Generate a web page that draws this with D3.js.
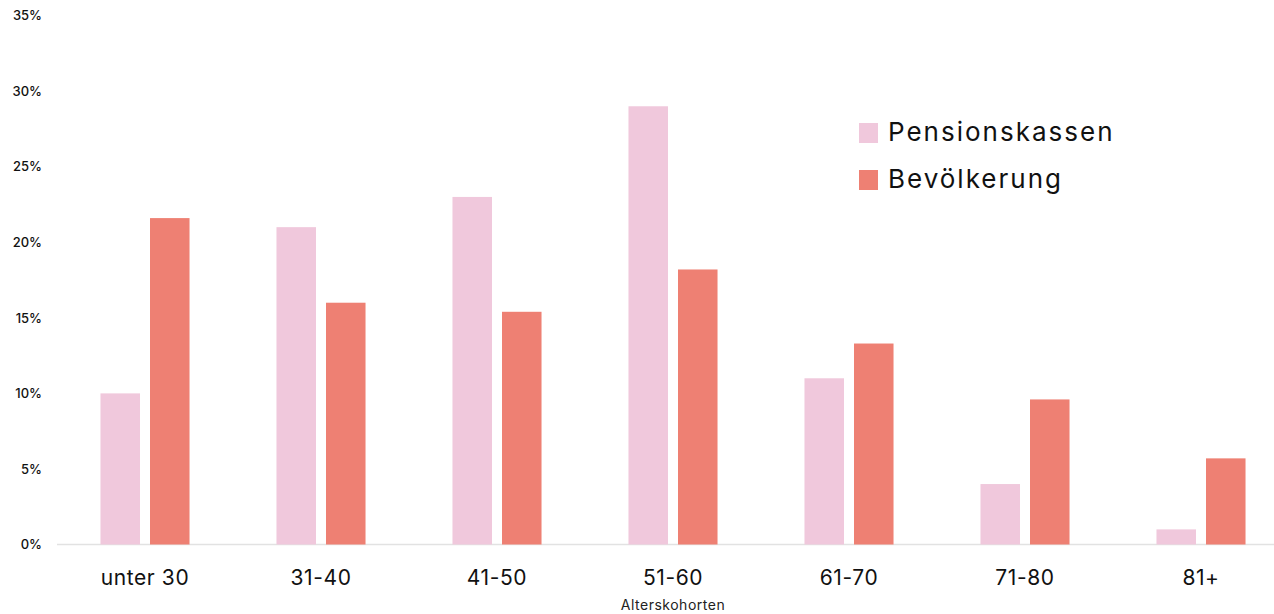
<!DOCTYPE html>
<html>
<head>
<meta charset="utf-8">
<script src="https://cdn.jsdelivr.net/npm/d3@7"></script>
<style>
  html, body { margin: 0; padding: 0; background: #ffffff; }
  svg { display: block; font-family: "Inter", "Noto Sans", sans-serif; }
</style>
</head>
<body>
<svg id="chart" width="1274" height="614"></svg>
<script>
// Age cohorts and the share of each group (in percent)
const categories = ["unter 30", "31-40", "41-50", "51-60", "61-70", "71-80", "81+"];
const seriesNames = ["Pensionskassen", "Bevölkerung"];
const pensionskassen = [10, 21, 23, 29, 11, 4, 1];
const bevoelkerung = [21.6, 16.0, 15.4, 18.2, 13.3, 9.6, 5.7];
const yTicks = [0, 5, 10, 15, 20, 25, 30, 35];
const xTitle = "Alterskohorten";

const colors = { "Pensionskassen": "#f0c8dc", "Bevölkerung": "#ee8073" };

const rows = categories.map((c, i) => ({
  category: c,
  values: [
    { key: seriesNames[0], value: pensionskassen[i] },
    { key: seriesNames[1], value: bevoelkerung[i] }
  ]
}));

const svg = d3.select("#chart");

const x0 = d3.scaleBand()
  .domain(categories)
  .range([57, 1289])
  .paddingInner(0.494)
  .paddingOuter(0.247);

const x1 = d3.scaleBand()
  .domain(seriesNames)
  .range([0, x0.bandwidth()])
  .paddingInner(0.202);

const y = d3.scaleLinear()
  .domain([0, 35])
  .range([544.5, 15.6]);

// y tick labels (no axis line)
const yAxis = d3.axisLeft(y)
  .tickValues(yTicks)
  .tickFormat(d => d + "%")
  .tickSize(0)
  .tickPadding(0);

const gy = svg.append("g")
  .attr("transform", "translate(42,0)")
  .call(yAxis);
gy.select(".domain").remove();
gy.selectAll("text")
  .attr("fill", "#111")
  .style("font-size", "13px")
  .style("font-weight", "500")
  .style("font-family", "Inter, sans-serif");

// baseline
svg.append("line")
  .attr("x1", 57).attr("x2", 1274)
  .attr("y1", y(0)).attr("y2", y(0))
  .attr("stroke", "#e2e2e2")
  .attr("stroke-width", 1.5);

// bars
const groups = svg.append("g")
  .selectAll("g")
  .data(rows)
  .join("g")
  .attr("transform", d => `translate(${x0(d.category)},0)`);

groups.selectAll("rect")
  .data(d => d.values)
  .join("rect")
  .attr("x", d => x1(d.key))
  .attr("width", x1.bandwidth())
  .attr("y", d => y(d.value))
  .attr("height", d => y(0) - y(d.value))
  .attr("fill", d => colors[d.key]);

// x category labels
const xAxis = d3.axisBottom(x0).tickSize(0).tickPadding(0);
const gx = svg.append("g")
  .attr("transform", `translate(0,${y(0)})`)
  .call(xAxis);
gx.select(".domain").remove();
gx.selectAll("text")
  .attr("dy", null)
  .attr("y", 40)
  .attr("fill", "#111")
  .style("font-size", "21px")
  .style("letter-spacing", "0.6px")
  .style("font-family", "Inter, sans-serif");

// x axis title
svg.append("text")
  .attr("x", (57 + 1289) / 2)
  .attr("y", 610)
  .attr("text-anchor", "middle")
  .attr("fill", "#222")
  .style("font-size", "14px")
  .style("letter-spacing", "0.5px")
  .text(xTitle);

// legend
const legend = svg.append("g")
  .selectAll("g")
  .data(seriesNames)
  .join("g")
  .attr("transform", (d, i) => `translate(859,${123 + i * 47})`);

legend.append("rect")
  .attr("width", 19)
  .attr("height", 20)
  .attr("fill", d => colors[d]);

legend.append("text")
  .attr("x", 29)
  .attr("y", 18)
  .attr("fill", "#111")
  .style("font-size", "26px")
  .style("letter-spacing", "2px")
  .text(d => d);
</script>
</body>
</html>
